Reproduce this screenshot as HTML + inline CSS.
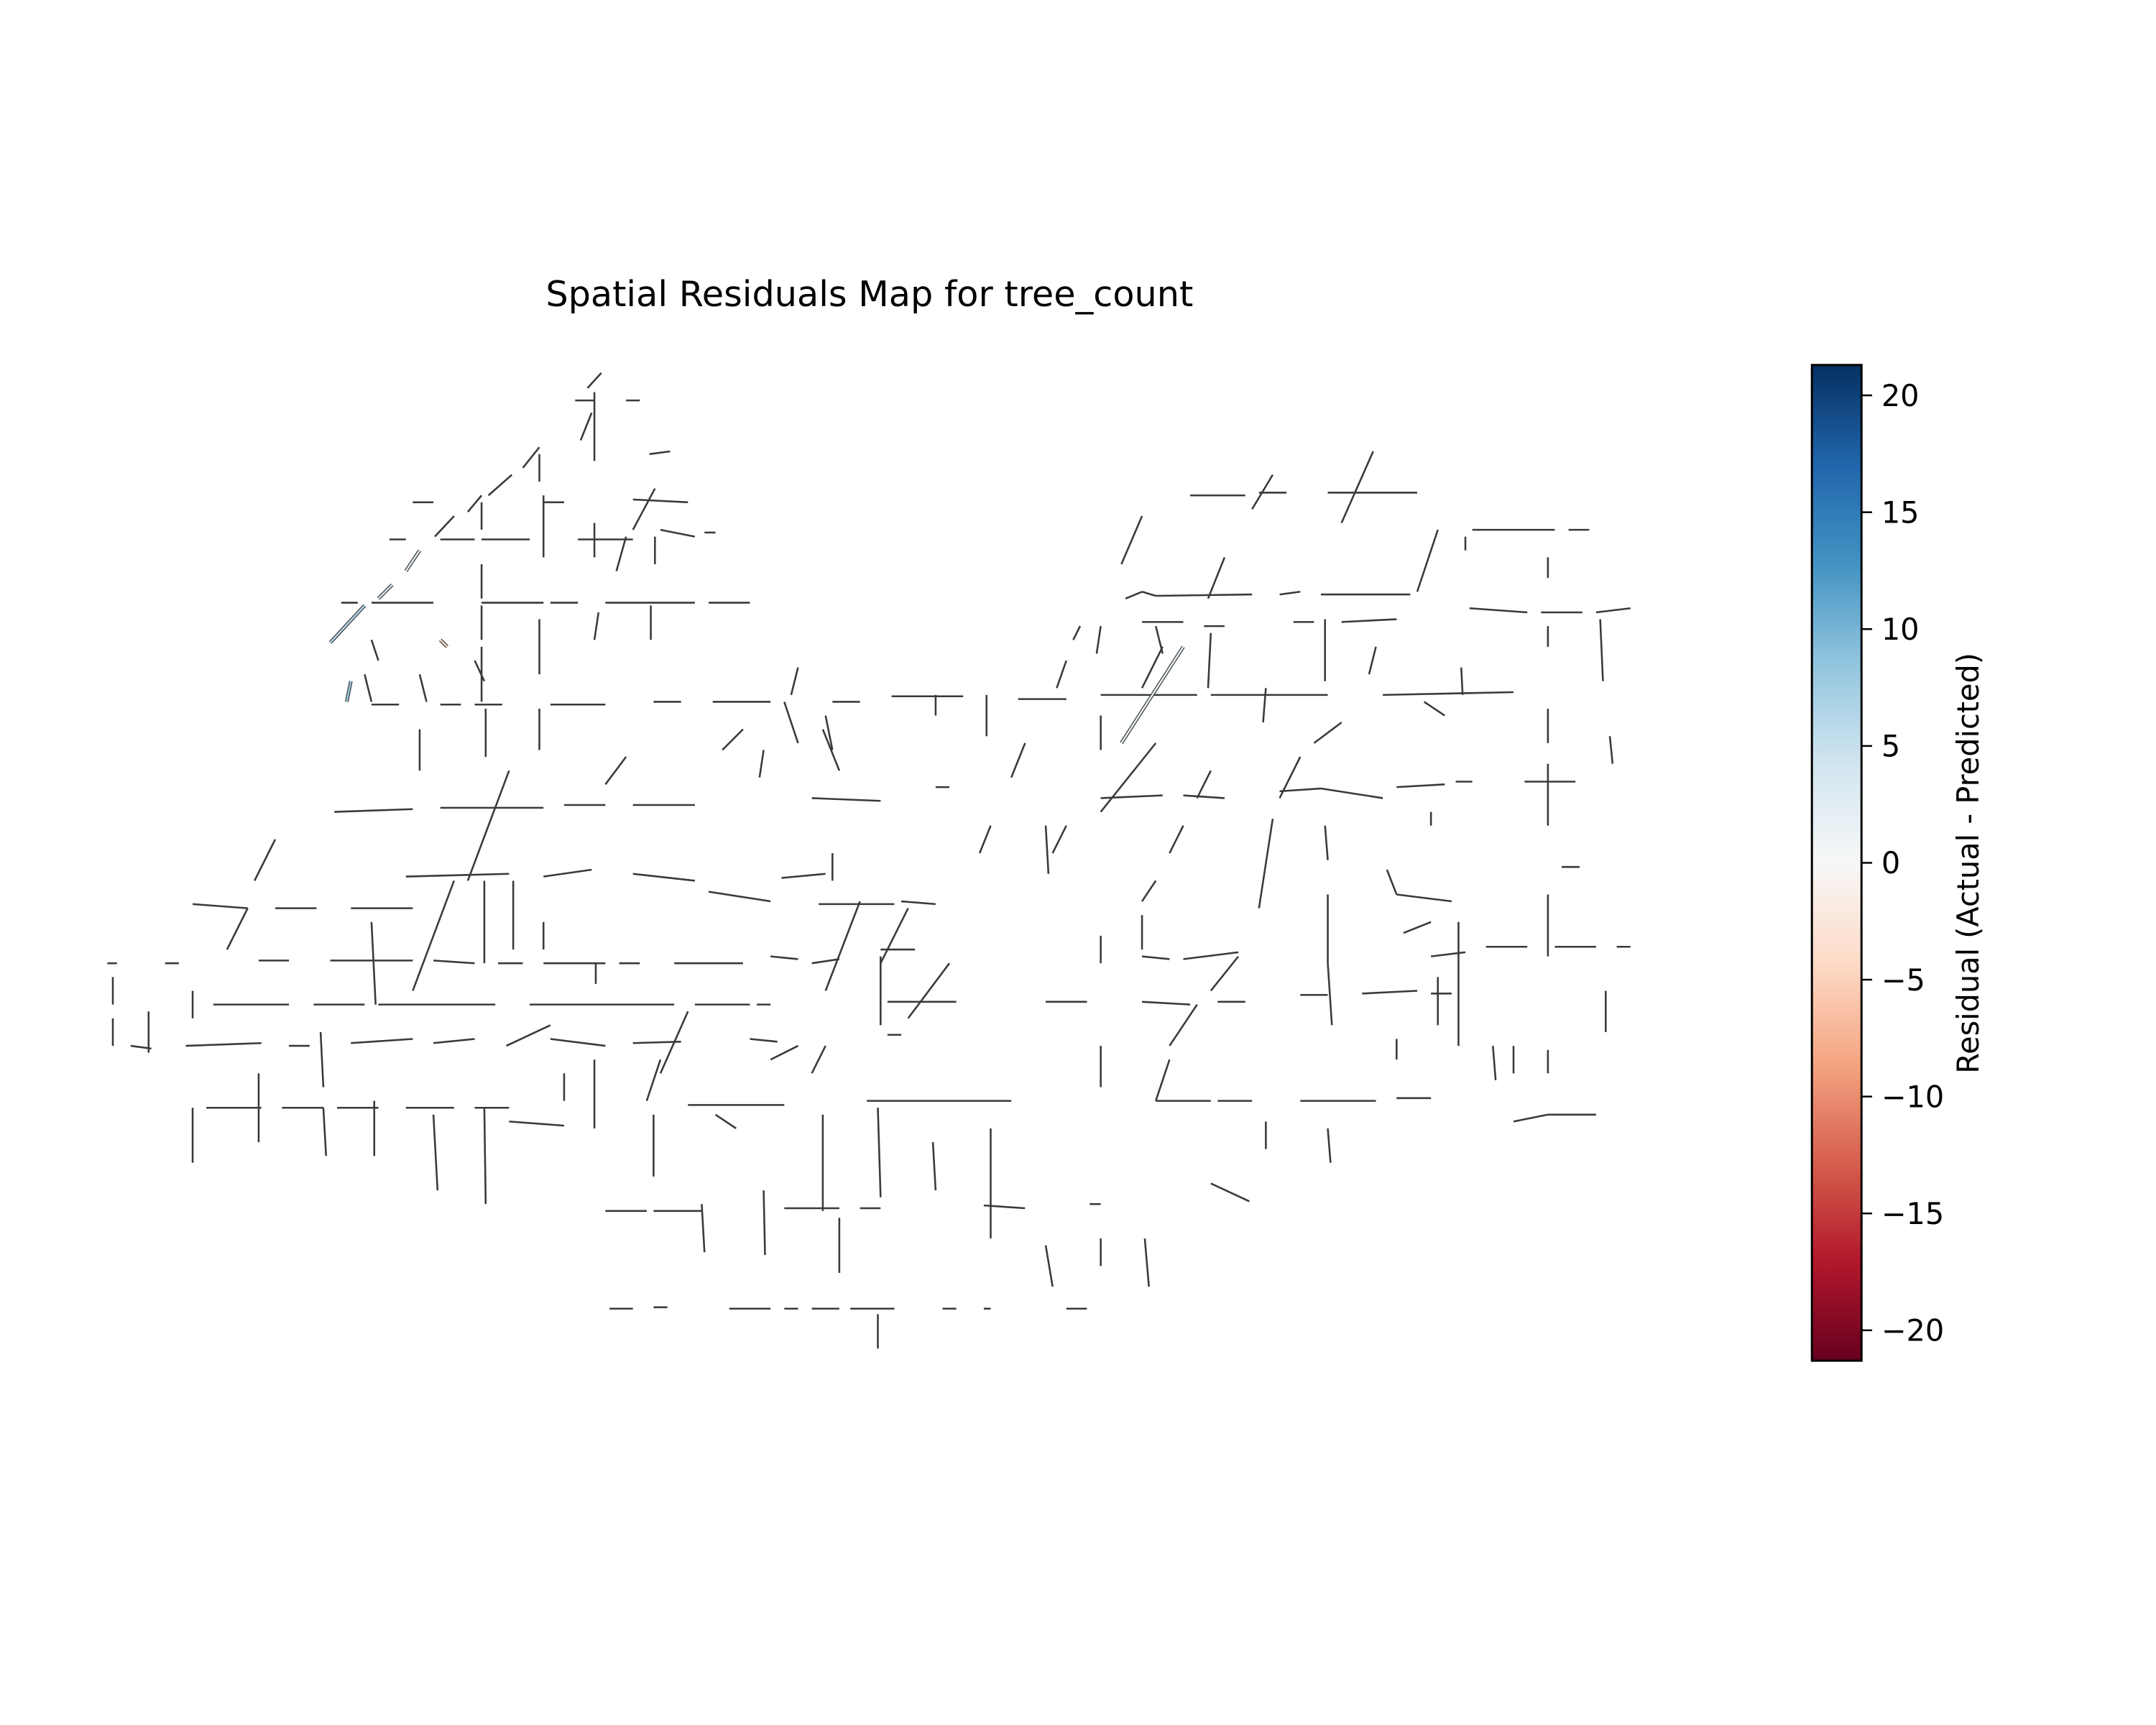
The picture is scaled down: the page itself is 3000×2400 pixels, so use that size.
<!DOCTYPE html>
<html><head><meta charset="utf-8"><style>
html,body{margin:0;padding:0;background:#fff;}
svg{display:block;font-family:"DejaVu Sans","Liberation Sans",sans-serif;}
</style></head><body>
<svg id="chart" width="3000" height="2400" viewBox="0 0 3000 2400" xmlns="http://www.w3.org/2000/svg">
<defs>
<linearGradient id="rdbu" x1="0" y1="1" x2="0" y2="0">
<stop offset="0" stop-color="#67001f"/><stop offset="0.1" stop-color="#b2182b"/><stop offset="0.2" stop-color="#d6604d"/><stop offset="0.3" stop-color="#f4a582"/><stop offset="0.4" stop-color="#fddbc7"/><stop offset="0.5" stop-color="#f7f7f7"/><stop offset="0.6" stop-color="#d1e5f0"/><stop offset="0.7" stop-color="#92c5de"/><stop offset="0.8" stop-color="#4393c3"/><stop offset="0.9" stop-color="#2166ac"/><stop offset="1" stop-color="#053061"/>
</linearGradient>
</defs>
<g transform="scale(0.986)">
<text x="1227" y="432" font-size="50" text-anchor="middle">Spatial Residuals Map for tree_count</text>
<g id="map"></g>
<rect x="2557" y="515" width="70" height="1405" fill="url(#rdbu)" stroke="#000" stroke-width="3"/>
<g id="cbticks"></g>
<text transform="translate(2792,1218) rotate(-90)" font-size="42" text-anchor="middle">Residual (Actual - Predicted)</text>
</g>
</svg>
<script>
const tickValues = [20, 15, 10, 5, 0, -5, -10, -15, -20];
const tickLabels = ["20", "15", "10", "5", "0", "\u22125", "\u221210", "\u221215", "\u221220"];
const segments = [
[437,271,427,282],[418,291,432,291],[455,291,465,291],[432,285,432,335],[430,300,422,320],[472,330,487,328],
[392,325,380,340],[372,345,355,360],[392,330,392,350],[350,360,340,372],[330,375,316,390],[305,400,295,415],
[285,425,275,435],[265,440,240,467],[300,365,315,365],[283,392,295,392],[395,365,410,365],[395,360,395,405],
[350,365,350,385],[460,363,500,365],[476,355,460,385],[455,390,448,415],[420,392,460,392],[320,392,345,392],
[350,392,385,392],[480,385,505,390],[512,387,520,387],[432,380,432,405],[476,390,476,410],[350,410,350,435],
[248,438,260,438],[270,438,315,438],[350,438,395,438],[400,438,420,438],[440,438,505,438],[515,438,545,438],
[392,450,392,490],[350,440,350,465],[350,470,350,510],[345,480,352,495],[270,465,275,480],[255,495,252,510],
[265,490,270,510],[320,465,325,470],[473,440,473,465],[435,445,432,465],[305,490,310,510],
[270,512,290,512],[320,512,335,512],[345,512,365,512],[400,512,440,512],[475,510,495,510],[518,510,560,510],
[605,510,625,510],[648,506,700,506],[740,508,775,508],[800,505,870,505],[880,505,965,505],[1005,505,1100,503],
[580,485,575,505],[570,510,580,540],[717,505,717,535],[680,505,680,520],[600,520,605,545],[305,530,305,560],
[353,515,353,550],[392,515,392,545],[455,550,440,570],[370,560,340,640],[525,545,540,530],[555,545,552,565],
[598,530,610,560],[745,540,735,565],[800,520,800,545],[860,470,815,540],[840,540,800,590],
[243,590,300,588],[320,587,395,587],[410,585,440,585],[460,585,505,585],[590,580,640,582],[680,572,690,572],
[800,580,845,578],[860,578,890,580],[930,575,960,573],[960,573,1005,580],[1015,572,1050,570],[1058,568,1070,568],
[1108,568,1145,568],[1125,555,1125,600],[295,637,370,635],[395,637,430,632],[460,635,505,640],[515,648,560,655],
[568,638,600,635],[605,620,605,640],[1008,632,1015,650],[1015,650,1055,655],[1135,630,1148,630],
[140,657,180,660],[200,660,230,660],[255,660,300,660],[595,657,650,657],[655,655,680,657],[965,650,965,700],
[1125,650,1125,695],[830,665,830,690],[78,700,85,700],[120,700,130,700],[188,698,210,698],[240,698,300,698],
[315,698,345,700],[362,700,380,700],[395,700,440,700],[450,700,465,700],[490,700,540,700],[560,695,580,697],
[590,700,610,697],[640,690,665,690],[830,695,850,697],[860,697,900,692],[1040,695,1065,692],[1080,688,1110,688],
[1130,688,1160,688],[1175,688,1185,688],[1020,678,1040,670],[155,730,210,730],[228,730,265,730],[275,730,330,730],
[330,730,360,730],[385,730,490,730],[505,730,545,730],[550,730,560,730],[645,728,695,728],[760,728,790,728],
[830,728,865,730],[885,728,905,728],[945,723,965,723],[990,722,1030,720],[1040,722,1055,722],
[95,760,110,762],[135,760,190,758],[210,760,225,760],[255,758,300,755],[315,758,345,755],[368,760,400,745],
[400,755,440,760],[460,758,495,757],[545,755,565,757],[645,752,655,752],[150,805,190,805],[205,805,235,805],
[245,805,275,805],[295,805,330,805],[345,805,370,805],[370,815,410,818],[500,803,570,803],[630,800,735,800],
[840,800,880,800],[885,800,910,800],[945,800,1000,800],[1015,798,1040,798],[1100,815,1125,810],[1125,810,1160,810],
[440,880,470,880],[475,880,510,880],[570,878,610,878],[625,878,640,878],[715,876,745,878],[792,875,800,875],
[880,860,908,873],[443,951,460,951],[475,950,485,950],[530,951,560,951],[570,951,580,951],[590,951,610,951],
[618,951,650,951],[685,951,695,951],[715,951,720,951],[775,951,790,951],
[82,710,82,730],[82,740,82,760],[108,735,108,765],[140,720,140,740],[140,805,140,845],[188,780,188,830],
[233,750,235,790],[235,805,237,840],[270,670,273,730],[272,800,272,840],[315,810,318,865],[352,640,352,700],
[352,805,353,875],[373,640,373,690],[395,670,395,690],[410,780,410,800],[432,770,432,820],[433,700,433,715],
[475,810,475,855],[510,875,512,910],[555,865,556,912],[598,810,598,880],[610,885,610,925],[638,805,640,870],
[678,830,680,865],[720,820,720,900],[760,905,765,935],[800,900,800,920],[800,760,800,790],[800,680,800,700],
[832,900,835,935],[638,955,638,980],[640,695,640,745],[965,700,968,745],[920,815,920,835],[1045,710,1045,745],
[1060,670,1060,760],[1085,760,1087,785],[1125,763,1125,780],[1167,720,1167,750],[1015,755,1015,770],[965,820,967,845],
[1163,450,1165,495],[1125,405,1125,420],[1125,455,1125,470],[1125,515,1125,540],[1065,390,1065,400],[1062,485,1063,505],
[1170,535,1172,555],[963,450,963,495],[963,600,965,625],[760,600,762,635],[840,455,845,475],
[865,360,905,360],[915,358,935,358],[965,358,1030,358],[1070,385,1130,385],[1140,385,1155,385],[1068,442,1110,445],
[1120,445,1150,445],[1160,445,1185,442],[818,435,830,430],[830,430,840,433],[840,433,910,432],[930,432,945,430],
[960,432,1025,432],[830,452,860,452],[875,455,890,455],[940,452,955,452],[975,452,1015,450],[998,328,975,380],
[925,345,910,370],[830,375,815,410],[890,405,878,435],[1045,385,1030,430],[845,470,830,500],[800,455,797,475],
[785,455,780,465],[775,480,768,500],[880,460,878,500],[920,500,918,525],[975,525,955,540],[945,550,930,580],
[925,595,915,660],[880,560,870,580],[860,600,850,620],[840,640,830,655],[775,600,765,620],[1000,470,995,490],
[1035,510,1050,520],[660,660,640,700],[625,655,600,720],[690,700,660,740],[500,735,480,780],[480,770,470,800],
[900,695,880,720],[870,730,850,760],[850,770,840,800],[330,640,300,720],[200,610,185,640],[180,660,165,690],
[720,600,712,620],[580,760,560,770],[600,760,590,780],[520,810,535,820],[1100,760,1100,780],[1040,590,1040,600]
];
const residuals = segments.map((s, i) => 0);
residuals[13] = 6; residuals[12] = 4; residuals[11] = 3; residuals[43] = -4; residuals[41] = 8; residuals[74] = 2; residuals[293] = 5;

const S = 3000 / 1545;
const cbTop = 515, cbBot = 1920, vmax = 21.3, vmin = -21.3;
function yScale(v) { return cbTop + (vmax - v) / (vmax - vmin) * (cbBot - cbTop); }
function px(v) { return v * S; }
const stops = [[-1,[103,0,31]],[-0.8,[178,24,43]],[-0.6,[214,96,77]],[-0.4,[244,165,130]],[-0.2,[253,219,199]],[0,[247,247,247]],[0.2,[209,229,240]],[0.4,[146,197,222]],[0.6,[67,147,195]],[0.8,[33,102,172]],[1,[5,48,97]]];
function cmap(v) {
  const t = Math.max(-1, Math.min(1, v / vmax));
  for (let i = 0; i < stops.length - 1; i++) {
    if (t <= stops[i + 1][0]) {
      const f = (t - stops[i][0]) / (stops[i + 1][0] - stops[i][0]);
      const c = stops[i][1].map((a, k) => Math.round(a + f * (stops[i + 1][1][k] - a)));
      return 'rgb(' + c.join(',') + ')';
    }
  }
  return 'rgb(5,48,97)';
}
const NS = 'http://www.w3.org/2000/svg';
const map = document.getElementById('map');
segments.forEach((s, i) => {
  const dark = document.createElementNS(NS, 'line');
  
  
  dark.setAttribute('x1', px(s[0])); dark.setAttribute('y1', px(s[1]));
  dark.setAttribute('x2', px(s[2])); dark.setAttribute('y2', px(s[3]));
  dark.setAttribute('stroke', '#3a3a3a'); dark.setAttribute('stroke-width', residuals[i] !== 0 ? 5 : 2.6);
  map.appendChild(dark);
  if (residuals[i] !== 0) {
    const col = document.createElementNS(NS, 'line');
    
    
    col.setAttribute('x1', px(s[0])); col.setAttribute('y1', px(s[1]));
    col.setAttribute('x2', px(s[2])); col.setAttribute('y2', px(s[3]));
    col.setAttribute('stroke', cmap(residuals[i])); col.setAttribute('stroke-width', 2.5);
    map.appendChild(col);
  }
});
const tg = document.getElementById('cbticks');
tickValues.forEach((v, i) => {
  const y = yScale(v);
  const l = document.createElementNS(NS, 'line');
  
  
  l.setAttribute('x1', 2627); l.setAttribute('x2', 2642); l.setAttribute('y1', y); l.setAttribute('y2', y);
  l.setAttribute('stroke', '#000'); l.setAttribute('stroke-width', 2.5);
  tg.appendChild(l);
  const t = document.createElementNS(NS, 'text');
  
  
  t.setAttribute('x', 2655); t.setAttribute('y', y + 15);
  t.setAttribute('font-size', 42);
  t.textContent = tickLabels[i];
  tg.appendChild(t);
});
</script>
</body></html>
